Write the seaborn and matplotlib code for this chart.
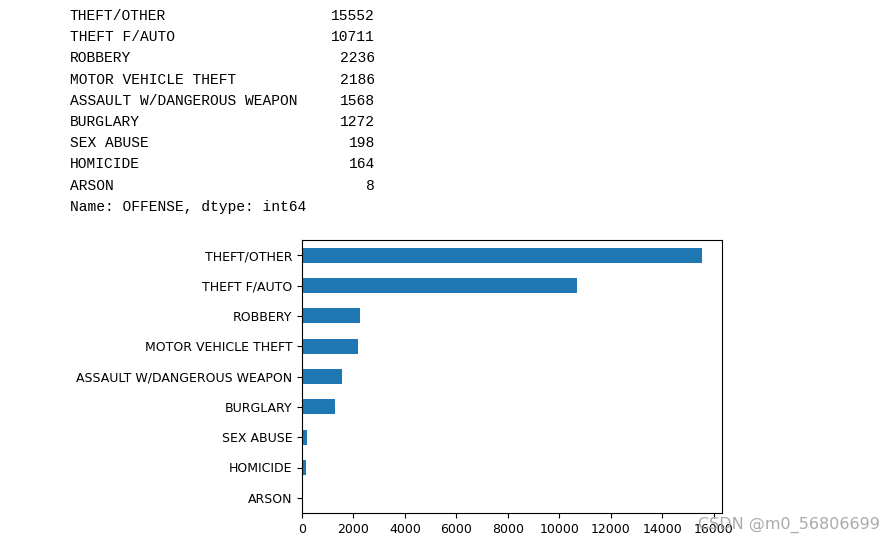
import numpy as np
import pandas as pd
import matplotlib
matplotlib.use("Agg")
import matplotlib.pyplot as plt
import seaborn as sns

# value_counts of OFFENSE column
offenses = ["THEFT/OTHER", "THEFT F/AUTO", "ROBBERY", "MOTOR VEHICLE THEFT",
            "ASSAULT W/DANGEROUS WEAPON", "BURGLARY", "SEX ABUSE", "HOMICIDE", "ARSON"]
counts = [15552, 10711, 2236, 2186, 1568, 1272, 198, 164, 8]
xticks = [0, 2000, 4000, 6000, 8000, 10000, 12000, 14000, 16000]

df = pd.DataFrame({"OFFENSE": offenses, "count": counts})

W, H = 895, 544
fig = plt.figure(figsize=(W / 100, H / 100), dpi=100)

# printed series output above the chart
mono = "Liberation Mono"
line_y = 16
for name, val in zip(offenses, counts):
    fig.text(70 / W, 1 - line_y / H, name, family=mono, fontsize=10.5,
             va="center", ha="left")
    fig.text(375 / W, 1 - line_y / H, str(val), family=mono, fontsize=10.5,
             va="center", ha="right")
    line_y += 21.2
fig.text(70 / W, 1 - line_y / H, "Name: OFFENSE, dtype: int64", family=mono,
         fontsize=10.5, va="center", ha="left")

# bar chart
ax = fig.add_axes([302 / W, 1 - 513 / H, (722 - 302) / W, (513 - 240) / H])
sns.barplot(data=df, x="count", y="OFFENSE", color="#1f77b4", saturation=1,
            width=0.5, ax=ax)
ax.set_xlim(0, max(counts) * 1.05)
ax.set_xticks(xticks)
ax.set_xlabel("")
ax.set_ylabel("")
ax.tick_params(labelsize=9)

# watermark (overlaps the last tick label, as in the screenshot)
fig.text(880 / W, 1 - 525 / H, "CSDN @m0_56806699", fontsize=11.5,
         color="#aaaaaa", ha="right", va="center")

fig.savefig("out.png", dpi=100)
